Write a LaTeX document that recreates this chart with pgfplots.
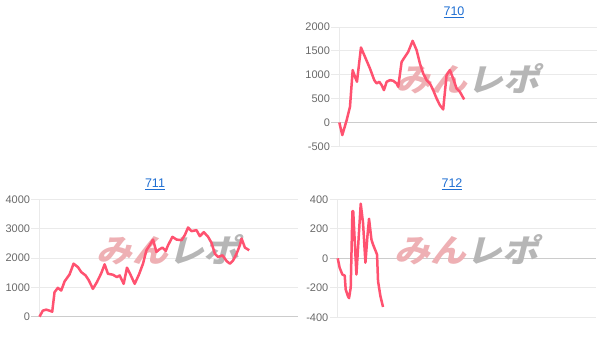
\documentclass[border=0pt]{standalone}
\usepackage{fontspec}
\setmainfont{Liberation Sans}
\newfontfamily\cjk{Noto Sans CJK JP}
\usepackage{pgfplots}
\pgfplotsset{compat=1.18}
\definecolor{linec}{RGB}{255,82,112}
\definecolor{titlec}{RGB}{30,110,210}
\definecolor{tickc}{RGB}{105,105,105}
\definecolor{gridc}{RGB}{234,234,234}
\definecolor{zeroc}{RGB}{204,204,204}
\definecolor{wmpink}{RGB}{238,176,180}
\definecolor{wmgray}{RGB}{182,182,182}

\pgfplotsset{panel/.style={
  scale only axis, anchor=south west,
  xmin=0, xmax=258,
  axis line style={draw=none},
  xtick=\empty,
  ytick pos=left, tick align=outside, major tick length=8pt,
  ytick style={draw=gridc, line width=0.8pt},
  ymajorgrids, major grid style={draw=gridc, line width=0.8pt},
  extra y ticks={0},
  extra y tick style={major grid style={draw=zeroc, line width=0.9pt}, ytick style={draw=zeroc, line width=0.9pt}},
  yticklabel style={font=\fontsize{11}{12}\selectfont, text=tickc, inner xsep=1.2pt},
  /pgf/number format/assume math mode=true,
  /pgf/number format/set thousands separator={},
  clip=false,
}}
\newcommand{\wm}{\node[xslant=0.25, xscale=1.12, inner sep=0pt] at (rel axis cs:0.51,0.57) {\cjk\bfseries\fontsize{32}{32}\selectfont\textcolor{wmpink}{みん}\textcolor{wmgray}{レポ}};}
\newcommand{\ttl}[1]{{\fontsize{12.5}{14}\selectfont\color{titlec}\underline{#1}}}

\begin{document}
\begin{tikzpicture}
\path[use as bounding box] (0pt,0pt) rectangle (606pt,339pt);

% 710
\begin{axis}[panel, at={(339.3pt,192.7pt)}, width=257.7pt, height=119.3pt,
  ymin=-500, ymax=2000, ytick={-500,500,1000,1500,2000}]
\wm
\draw[gridc, line width=0.8pt] (rel axis cs:0,0) -- (rel axis cs:0,1);
\addplot[linec, line width=2.5pt, line join=round] coordinates {
(0,0) (3.0,-265) (7.4,49) (10.7,328) (13.4,1096) (15.7,956) (17.7,852)
(21.7,1571) (25.7,1375) (30.7,1131) (35.0,886) (37.4,817) (40.0,852)
(42.4,782) (44.7,677) (47.4,852) (50.7,886) (54.0,873) (57.4,817)
(59.0,747) (62.4,1270) (65.7,1375) (69.0,1480) (73.4,1710) (77.4,1515)
(80.7,1236) (84.0,1026) (87.4,886) (90.7,817) (94.0,677) (97.4,503)
(100.7,363) (104.0,272) (107.4,991) (110.7,1096) (114.0,921) (117.4,712)
(120.7,642) (125.0,482)
};
\end{axis}
\node[anchor=base] at (454pt,323pt) {\ttl{710}};

% 711
\begin{axis}[panel, at={(39.5pt,22.3pt)}, width=258.5pt, height=117.4pt,
  ymin=0, ymax=4000, ytick={1000,2000,3000,4000}]
\wm
\draw[gridc, line width=0.8pt] (rel axis cs:0,0) -- (rel axis cs:0,1);
\addplot[linec, line width=2.5pt, line join=round] coordinates {
(0,0) (3.3,206) (6.7,240) (10,206) (12.7,171) (15,834) (18.3,983)
(21.7,891) (25,1200) (30,1440) (34,1806) (38.3,1691) (41.7,1520)
(46,1406) (49.3,1234) (53.3,949) (57.3,1177) (61.7,1486) (65,1783)
(68.3,1463) (73.3,1429) (77.3,1349) (80,1406) (84,1120) (87.3,1669)
(90.7,1440) (95,1120) (99.3,1440) (103.3,1806) (106.7,2263) (110,2434)
(113.3,2629) (116.7,2206) (119.3,2286) (122.7,2355) (126,2240)
(128.3,2434) (132.7,2720) (136.7,2629) (141.7,2606) (145,2777)
(148.3,3040) (151.7,2914) (156.7,2949) (160,2743) (164,2880)
(168.3,2720) (171.7,2514) (175,2149) (178.3,2034) (182.7,2091)
(186.7,1897) (190,1806) (193.3,1920) (196.7,2149) (200,2434)
(201.7,2663) (205,2355) (209.3,2263)
};
\end{axis}
\node[anchor=base] at (155pt,151.5pt) {\ttl{711}};

% 712
\begin{axis}[panel, at={(337.7pt,21.7pt)}, width=258.3pt, height=118pt,
  ymin=-400, ymax=400, ytick={-400,-200,200,400}]
\wm
\draw[gridc, line width=0.8pt] (rel axis cs:0,0) -- (rel axis cs:0,1);
\addplot[linec, line width=2.5pt, line join=round] coordinates {
(0,0) (2,-65) (4.7,-110) (7,-117) (8,-212) (10.3,-258) (11.3,-270)
(13,-200) (14.7,320) (15.5,320) (18.7,-110) (23,370) (25.3,240)
(27.7,-30) (29.7,150) (31.3,268) (33.7,127) (35.3,93) (38,48)
(39.3,25) (40.3,-155) (42.7,-258) (45.3,-330)
};
\end{axis}
\node[anchor=base] at (452pt,151.5pt) {\ttl{712}};
\end{tikzpicture}
\end{document}
